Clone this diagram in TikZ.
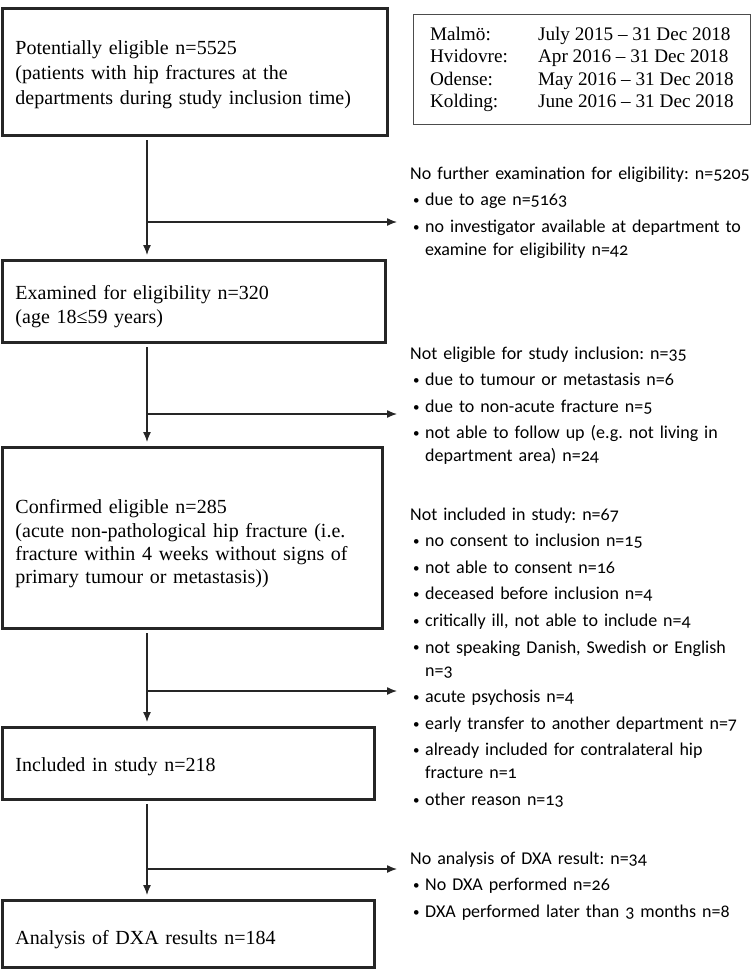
\documentclass[tikz,border=0pt]{standalone}
\usepackage{fontspec}
\setmainfont{Liberation Serif}
\newfontfamily\notefont{Carlito}[Numbers=OldStyle]
\usetikzlibrary{arrows.meta}
\setlength{\parindent}{0pt}
\frenchspacing

% one bullet line of the side notes
\newcommand{\bitem}[1]{\par\vspace{3.6pt}\hangindent=15pt\hangafter=1\noindent
  \makebox[15pt][l]{\hspace{3pt}\raisebox{1.2pt}{\fontsize{13}{13}\selectfont\textbullet}}#1\par}
% taller first line, pushes the box text a little down
\newcommand{\lowr}[1]{\rule{0pt}{#1pt}}

\tikzset{
  flowbox/.style={draw=black!85, line width=3pt, anchor=north west, inner xsep=13pt, inner ysep=0pt,
    align=left, font=\fontsize{20}{24}\selectfont},
  sitebox/.style={draw=black!70, line width=0.8pt, anchor=north west, inner sep=0pt,
    font=\fontsize{19.2}{22.5}\selectfont},
  notes/.style={anchor=base west, inner sep=0pt, text width=350pt, align=left,
    font=\notefont\fontsize{18}{23}\selectfont},
  flow/.style={line width=1.3pt, draw=black!85, -{Latex[length=10pt,width=8pt]}}
}

\begin{document}
\begin{tikzpicture}[x=1pt,y=-1pt]
  \useasboundingbox (0,0) rectangle (752,970);

  % main boxes
  \node[flowbox, minimum width=385pt, minimum height=127pt, text width=359pt, font=\fontsize{20}{25}\selectfont] (elig) at (1,7)
    {\lowr{19}Potentially eligible n=5525\\(patients with hip fractures at the\\departments during study inclusion time)};
  \node[flowbox, minimum width=382.5pt, minimum height=82pt, text width=356.5pt] (exam) at (1,259)
    {\lowr{24}Examined for eligibility n=320\\(age 18≤59 years)};
  \node[flowbox, minimum width=380pt, minimum height=181pt, text width=354pt, font=\fontsize{20}{23.4}\selectfont] (conf) at (1,446)
    {\lowr{26}Confirmed eligible n=285\\(acute non-pathological hip fracture (i.e.\\fracture within 4 weeks without signs of\\primary tumour or metastasis))};
  \node[flowbox, minimum width=372pt, minimum height=72pt, text width=346pt] (incl) at (1,726)
    {\lowr{20}Included in study n=218};
  \node[flowbox, minimum width=372pt, minimum height=67pt, text width=346pt] (dxa) at (1,899)
    {\lowr{26}Analysis of DXA results n=184};

  % inclusion periods
  \node[sitebox, minimum width=337pt, minimum height=110pt] (sites) at (413,14)
    {\begin{tabular}{@{}p{108pt}@{}l@{}}
     Malmö: & July 2015 -- 31 Dec 2018\\
     Hvidovre: & Apr 2016 -- 31 Dec 2018\\
     Odense: & May 2016 -- 31 Dec 2018\\
     Kolding: & June 2016 -- 31 Dec 2018
     \end{tabular}};

  % excluded at each step
  \node[notes] (noexam) at (410,179)
    {No further examination for eligibility: n=5205
     \bitem{due to age n=5163}
     \bitem{no investigator available at department to\break examine for eligibility n=42}};
  \node[notes] (noelig) at (410,359)
    {Not eligible for study inclusion: n=35
     \bitem{due to tumour or metastasis n=6}
     \bitem{due to non-acute fracture n=5}
     \bitem{not able to follow up (e.g. not living in\break department area) n=24}};
  \node[notes] (noincl) at (410,520)
    {Not included in study: n=67
     \bitem{no consent to inclusion n=15}
     \bitem{not able to consent n=16}
     \bitem{deceased before inclusion n=4}
     \bitem{critically ill, not able to include n=4}
     \bitem{not speaking Danish, Swedish or English\break n=3}
     \bitem{acute psychosis n=4}
     \bitem{early transfer to another department n=7}
     \bitem{already included for contralateral hip\break fracture n=1}
     \bitem{other reason n=13}};
  \node[notes] (nodxa) at (410,864)
    {No analysis of DXA result: n=34
     \bitem{No DXA performed n=26}
     \bitem{DXA performed later than 3 months n=8}};

  % trunk and side arrows
  \coordinate (j1) at (147,222);  \coordinate (e1) at (397,222);
  \coordinate (j2) at (147,414);  \coordinate (e2) at (397,414);
  \coordinate (j3) at (147,691);  \coordinate (e3) at (397,691);
  \coordinate (j4) at (147,869);  \coordinate (e4) at (397,869);

  \draw[flow, shorten <=3pt, shorten >=4pt] (elig.south -| j1) -- (exam.north -| j1);
  \draw[flow, shorten <=3pt, shorten >=4pt] (exam.south -| j2) -- (conf.north -| j2);
  \draw[flow, shorten <=3pt, shorten >=4pt] (conf.south -| j3) -- (incl.north -| j3);
  \draw[flow, shorten <=3pt, shorten >=4pt] (incl.south -| j4) -- (dxa.north -| j4);
  \foreach \i in {1,2,3,4}
    \draw[flow] (j\i) -- (e\i);
\end{tikzpicture}
\end{document}
